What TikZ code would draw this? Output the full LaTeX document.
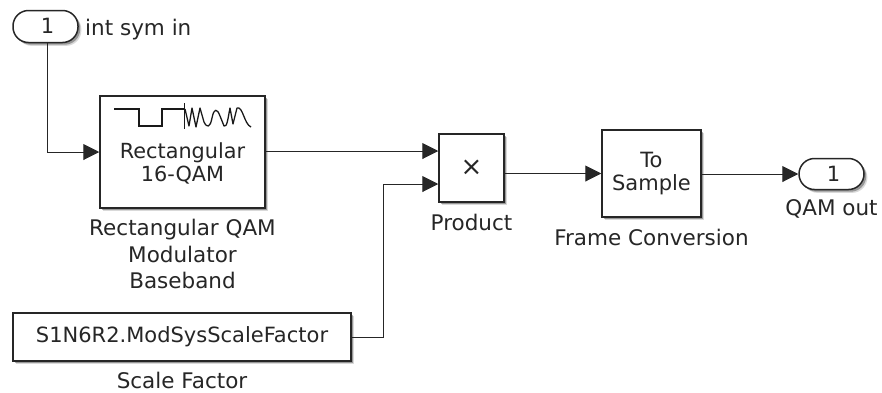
\documentclass[tikz,border=0pt]{standalone}
\usepackage{fontspec}
\setmainfont{DejaVu Sans}
\usetikzlibrary{shadows,arrows.meta,positioning}
\tikzset{
  x=1pt,y=-1pt,
  blockshadow/.style={
    drop shadow={shadow xshift=3.4pt,shadow yshift=-3.4pt,fill=black,opacity=0.15},
    drop shadow={shadow xshift=2.2pt,shadow yshift=-2.2pt,fill=black,opacity=0.3}},
  blk/.style={draw=black!85,line width=1.5pt,fill=white,rectangle,inner sep=0pt,align=center,blockshadow,text=black!85,font=\fontsize{21}{23}\selectfont},
  port/.style={blk,rounded corners=15.5pt},
  lbl/.style={inner sep=0pt,align=center,text=black!85,font=\fontsize{21.5}{26.5}\selectfont},
  wire/.style={draw=black!85,line width=1pt},
  arr/.style={wire,-{Triangle[length=16pt,width=16pt]}}
}
\begin{document}
\begin{tikzpicture}
\useasboundingbox (0,0) rectangle (882,392);
\node[port,minimum width=65pt,minimum height=32pt] (inp) at (45.5,26.5) {\hspace*{4pt}\raisebox{1pt}{1}};
\node[lbl,anchor=west] (inl) at (85,30) {int sym in};
\node[blk,minimum width=165pt,minimum height=112pt] (qam) at (182.5,152) {};
\node[inner sep=0pt,align=center,font=\fontsize{20.8}{23}\selectfont,text=black!85] (qamt) at (182.5,163) {Rectangular\\16-QAM};
\draw[black!90,line width=1.3pt,line join=miter] (114,109) -- (139,109) -- (139,126) -- (162,126) -- (162,109) -- (185,109);
\draw[black!90,line width=1.3pt,line join=round] (184.5,103) -- (184.5,129);
\draw[black!90,line width=1.3pt,line join=round] (185,109) -- (189,126) -- (192,108) -- (196,127) -- (200,108) -- (204,122) .. controls (207,128) and (210,128) .. (212,118) .. controls (214,108) and (217,108) .. (220,116) -- (224,126) .. controls (227,128) and (228,118) .. (230,108) -- (233,124) -- (237,108) .. controls (243,106) and (244,124) .. (251,127);
\node[lbl,anchor=north] (qaml) at (182.5,219) {Rectangular QAM\\Modulator\\Baseband};
\node[blk,minimum width=65pt,minimum height=68pt] (prod) at (471.5,168) {\fontsize{26}{26}\selectfont\raisebox{-2pt}{×}};
\node[lbl,anchor=north] (prodl) at (471.5,214) {Product};
\node[blk,minimum width=99pt,minimum height=87pt] (conv) at (651.5,173.5) {\raisebox{-2pt}{\shortstack{To\\[3pt]Sample}}};
\node[lbl,anchor=north] (convl) at (651.5,229) {Frame Conversion};
\node[port,minimum width=65pt,minimum height=31pt] (outp) at (831.5,174) {\hspace*{4pt}\raisebox{1pt}{1}};
\node[lbl,anchor=north] (outl) at (831.5,199) {QAM out};
\node[blk,minimum width=338pt,minimum height=48pt] (const) at (182,337) {\raisebox{-2pt}{S1N6R2.ModSysScaleFactor}};
\node[lbl,anchor=north] (constl) at (182,371.5) {Scale Factor};
\coordinate (in1) at (prod.west |- 0,151);
\coordinate (in2) at (prod.west |- 0,184);
\coordinate (bend) at (383,337);
\draw[arr] (inp.south -| 47.5,0) |- (qam.west);
\draw[arr] (qam.east |- in1) -- (in1);
\draw[arr] (const.east) -- (bend) |- (in2);
\draw[arr] (prod.east |- conv.west) -- (conv.west);
\draw[arr] (conv.east |- outp.west) -- (outp.west);
\end{tikzpicture}
\end{document}
